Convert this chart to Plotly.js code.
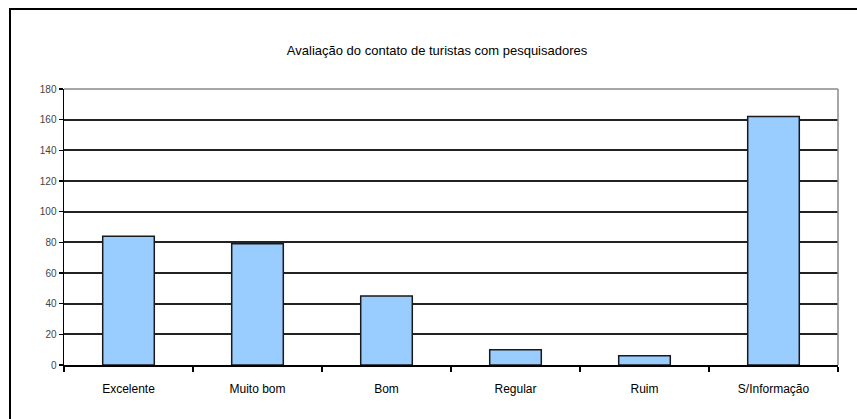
<!DOCTYPE html>
<html>
<head>
<meta charset="utf-8">
<script src="https://cdn.plot.ly/plotly-3.0.1.min.js"></script>
<style>
html,body{margin:0;padding:0;background:#fff;overflow:hidden;}
#wrap{position:absolute;left:0;top:0;width:857px;height:419px;}
#frame{position:absolute;left:9px;top:8px;width:900px;height:500px;border-left:2px solid #000;border-top:2px solid #000;pointer-events:none;}
#chart{position:absolute;left:0;top:0;width:857px;height:419px;}
</style>
</head>
<body>
<div id="wrap">
<div id="chart"></div>
<div id="frame"></div>
</div>
<script>
const categories = ["Excelente", "Muito bom", "Bom", "Regular", "Ruim", "S/Informação"];
const values = [84, 79, 45, 10, 6, 162];
const yTicks = [0, 20, 40, 60, 80, 100, 120, 140, 160, 180];
const titleText = "Avaliação do contato de turistas com pesquisadores";

const trace = {
  type: "bar",
  x: categories,
  y: values,
  marker: {color: "#99CCFF", line: {color: "#1a1a1a", width: 1.5}},
  hoverinfo: "x+y"
};

const layout = {
  width: 857,
  height: 419,
  margin: {l: 64, r: 19, t: 89, b: 54},
  paper_bgcolor: "#ffffff",
  plot_bgcolor: "#ffffff",
  showlegend: false,
  bargap: 0.6,
  title: {
    text: titleText,
    font: {family: "Liberation Sans, Arial, sans-serif", size: 13, color: "#000"},
    x: 0.51, xanchor: "center", y: 0.88, yanchor: "middle"
  },
  xaxis: {
    type: "category",
    showgrid: false,
    showline: true, linecolor: "#000", linewidth: 1.5,
    ticks: "outside", tickson: "boundaries", ticklen: 5, tickcolor: "#000", tickwidth: 1.5,
    ticklabelstandoff: 12,
    tickfont: {family: "Liberation Sans, Arial, sans-serif", size: 12, color: "#000"},
    zeroline: false
  },
  yaxis: {
    range: [0, 180],
    tickvals: yTicks,
    ticktext: yTicks.map(String),
    showgrid: true, gridcolor: "#222", gridwidth: 2,
    showline: true, linecolor: "#000", linewidth: 1.5,
    ticks: "outside", ticklen: 4, tickcolor: "#000", tickwidth: 1.5,
    tickfont: {family: "Liberation Sans, Arial, sans-serif", size: 10, color: "#444"},
    zeroline: false
  },
  shapes: [
    {type: "line", xref: "paper", yref: "paper", x0: 0, x1: 1, y0: 1, y1: 1, line: {color: "#888", width: 1.5}, layer: "above"},
    {type: "line", xref: "paper", yref: "paper", x0: 1, x1: 1, y0: 0, y1: 1, line: {color: "#888", width: 1.5}, layer: "above"}
  ]
};

Plotly.newPlot("chart", [trace], layout, {displayModeBar: false, staticPlot: true});
</script>
</body>
</html>
